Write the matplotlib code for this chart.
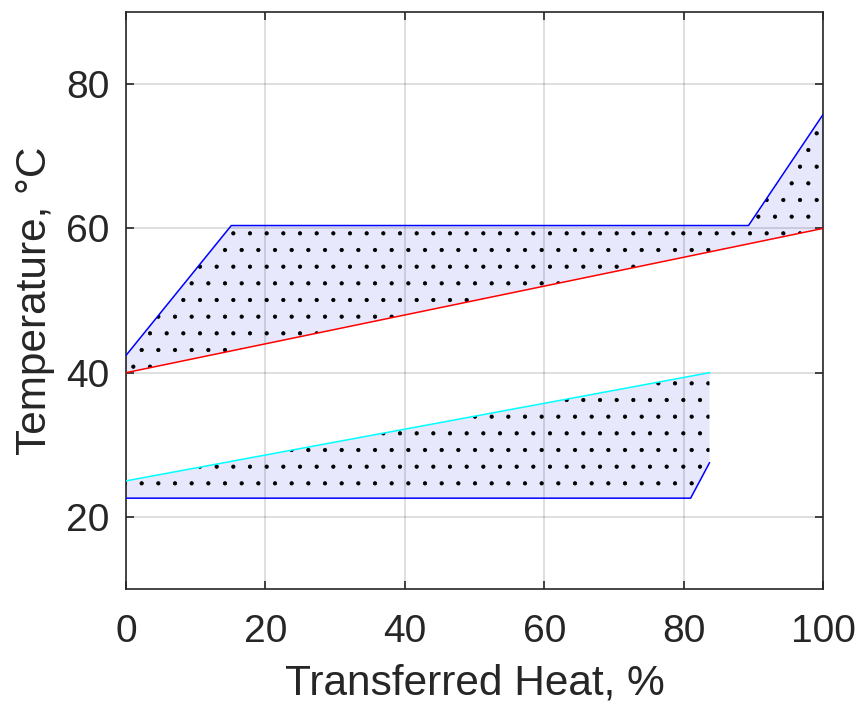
import matplotlib
matplotlib.use('Agg')
import matplotlib.pyplot as plt
import numpy as np

# hot side (upper) - blue outline
hot_x = [0, 15.1, 89.3, 100]
hot_y = [42.4, 60.4, 60.4, 75.8]
# cold side of upper pinch - red line
red_x = [0, 100]
red_y = [40, 60]
# lower cold-water line - cyan
cyan_x = [0, 83.7]
cyan_y = [25, 40]
# lower blue outline
low_x = [0, 81, 83.7]
low_y = [22.6, 22.6, 27.5]

x_ticks = [0, 20, 40, 60, 80, 100]
y_ticks = [20, 40, 60, 80]

plt.rcParams['font.family'] = ['Liberation Sans', 'DejaVu Sans']
plt.rcParams['hatch.linewidth'] = 0.6

TXT = '#262626'
FILL = '#e8e8fc'


def band(ax, top_x, top_y, bot_x, bot_y):
    xs = np.array(sorted(set(top_x + bot_x)))
    top = np.interp(xs, top_x, top_y)
    bot = np.interp(xs, bot_x, bot_y)
    ax.fill_between(xs, bot, top, facecolor=FILL, edgecolor='none', zorder=1)
    # dotted texture
    ax.fill_between(xs, bot, top, facecolor='none', edgecolor='black',
                    linewidth=0, hatch='.', zorder=1.1)


def main():
    fig = plt.figure(figsize=(8.58, 7.08), dpi=100)
    ax = fig.add_axes([0.1469, 0.168, 0.8124, 0.815])

    band(ax, hot_x, hot_y, red_x, red_y)
    band(ax, cyan_x, cyan_y, low_x, low_y)

    ax.plot(hot_x, hot_y, color='#0000ff', lw=1.1, zorder=3)
    ax.plot(red_x, red_y, color='#ff0000', lw=1.1, zorder=3)
    ax.plot(cyan_x, cyan_y, color='#00ffff', lw=1.1, zorder=3)
    ax.plot(low_x, low_y, color='#0000ff', lw=1.1, zorder=3)

    ax.set_xlim(0, 100)
    ax.set_ylim(10, 90)
    ax.set_xticks(x_ticks)
    ax.set_yticks(y_ticks)

    ax.set_axisbelow('line')
    ax.grid(True, color='#000000', alpha=0.15, lw=1.2)

    ax.tick_params(direction='in', length=6, width=1.2, colors=TXT,
                   labelsize=28, top=True, right=True)
    ax.tick_params(axis='x', pad=18)
    ax.tick_params(axis='y', pad=12)
    for s in ax.spines.values():
        s.set_linewidth(1.2)
        s.set_color(TXT)

    ax.set_xlabel('Transferred Heat, %', fontsize=30.5, color=TXT, labelpad=10)
    ax.set_ylabel('Temperature, °C', fontsize=30.5, color=TXT, labelpad=8)

    fig.savefig('out.png', dpi=100)


if __name__ == "__main__":
    main()
